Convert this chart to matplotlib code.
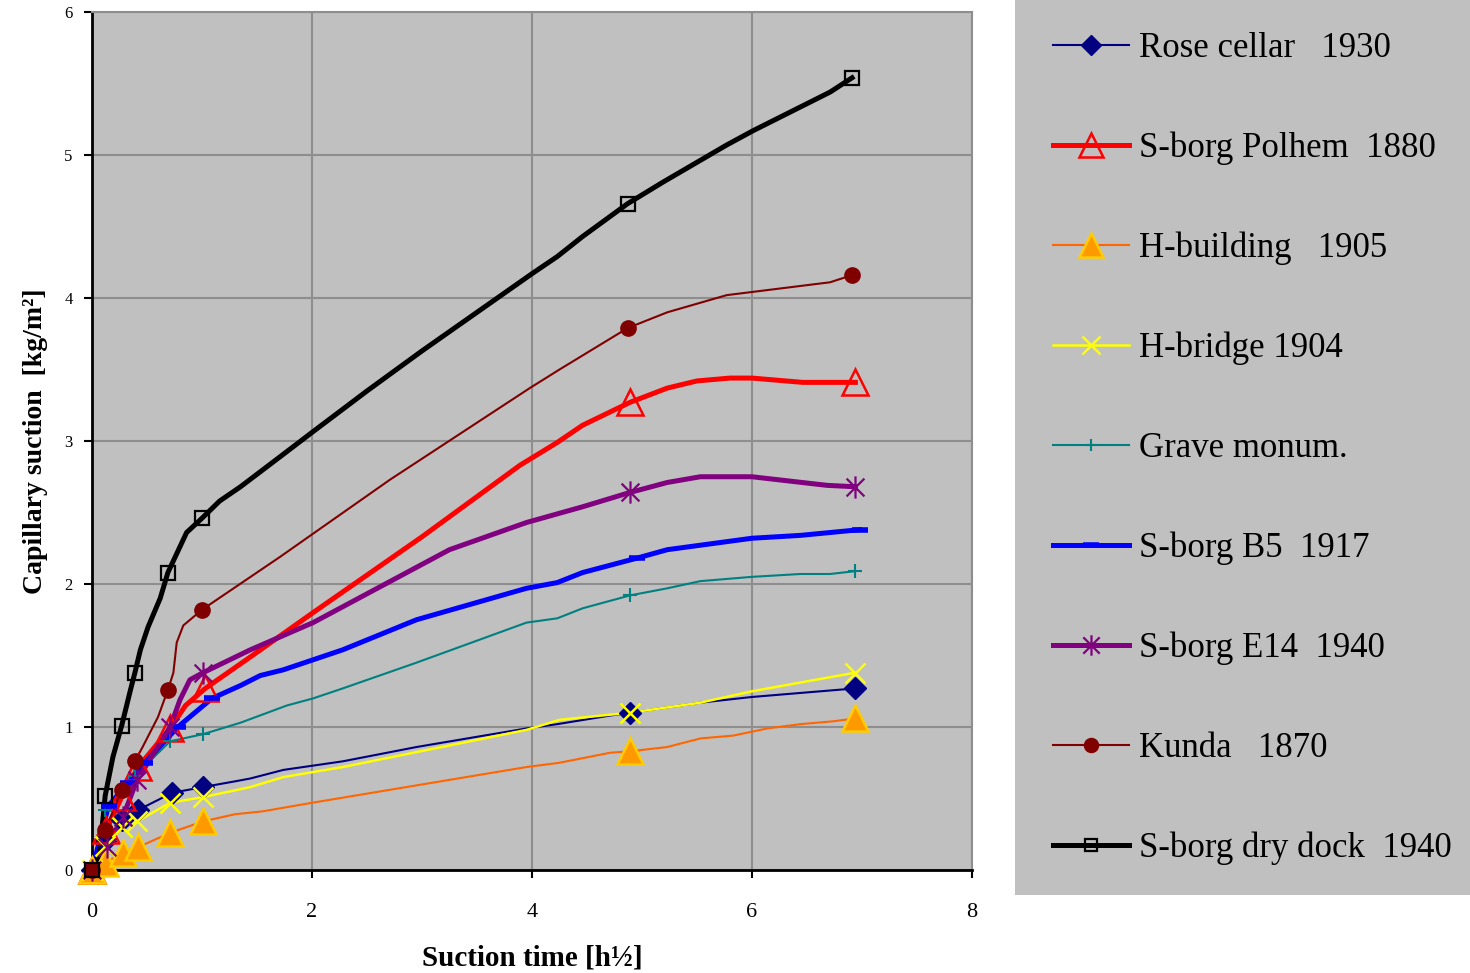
import matplotlib
matplotlib.use("Agg")
import matplotlib.pyplot as plt
from matplotlib.lines import Line2D
from matplotlib.path import Path

# ---- data (suction time in h^0.5, capillary suction in kg/m2) ----
rose_x = [0, 0.12, 0.27, 0.42, 0.73, 1.01, 1.3, 1.44, 1.74, 2.28, 2.95, 3.95, 4.23, 4.71, 4.89, 5.53, 6.0, 6.94]
rose_y = [0, 0.20, 0.35, 0.42, 0.54, 0.58, 0.62, 0.64, 0.70, 0.76, 0.86, 0.99, 1.02, 1.08, 1.10, 1.17, 1.21, 1.27]
rose_marks = [0, 1, 2, 3, 4, 5, 14, 17]

polhem_x = [0, 0.13, 0.27, 0.42, 0.71, 0.85, 1.03, 1.44, 2.01, 3.0, 3.89, 4.23, 4.46, 4.89, 5.23, 5.5, 5.8, 6.0, 6.46, 6.94]
polhem_y = [0, 0.28, 0.51, 0.72, 0.99, 1.15, 1.27, 1.49, 1.80, 2.33, 2.83, 2.99, 3.11, 3.27, 3.37, 3.42, 3.44, 3.44, 3.41, 3.41]
polhem_marks = [0, 1, 2, 3, 4, 6, 13, 19]

hbuild_x = [0, 0.12, 0.28, 0.42, 0.71, 1.01, 1.3, 1.55, 2.0, 3.95, 4.25, 4.71, 4.89, 5.23, 5.53, 5.83, 6.14, 6.44, 6.74, 6.94]
hbuild_y = [0, 0.05, 0.12, 0.16, 0.26, 0.34, 0.39, 0.41, 0.47, 0.72, 0.75, 0.82, 0.83, 0.86, 0.92, 0.94, 0.99, 1.02, 1.04, 1.06]
hbuild_marks = [0, 1, 2, 3, 4, 5, 12, 19]

hbridge_x = [0, 0.12, 0.27, 0.41, 0.71, 1.01, 1.44, 1.74, 2.28, 3.95, 4.25, 4.89, 5.53, 6.0, 6.94]
hbridge_y = [0, 0.17, 0.30, 0.34, 0.47, 0.51, 0.58, 0.65, 0.72, 0.98, 1.05, 1.10, 1.17, 1.25, 1.38]
hbridge_marks = [0, 1, 2, 3, 4, 5, 11, 14]

grave_x = [0, 0.12, 0.27, 0.39, 0.71, 1.01, 1.35, 1.77, 2.01, 2.28, 2.95, 3.95, 4.23, 4.46, 4.89, 5.23, 5.53, 6.0, 6.44, 6.71, 6.94]
grave_y = [0, 0.42, 0.55, 0.66, 0.90, 0.95, 1.03, 1.15, 1.20, 1.27, 1.45, 1.73, 1.76, 1.83, 1.92, 1.97, 2.02, 2.05, 2.07, 2.07, 2.09]
grave_marks = [0, 1, 2, 3, 4, 5, 14, 20]

b5_x = [0, 0.15, 0.33, 0.48, 0.78, 1.09, 1.35, 1.53, 1.74, 2.28, 2.95, 3.95, 4.23, 4.46, 4.95, 5.23, 6.0, 6.44, 6.98]
b5_y = [0, 0.45, 0.61, 0.75, 1.0, 1.2, 1.29, 1.36, 1.40, 1.54, 1.75, 1.97, 2.01, 2.08, 2.18, 2.24, 2.32, 2.34, 2.38]
b5_marks = [0, 1, 2, 3, 4, 5, 14, 18]

e14_x = [0, 0.14, 0.28, 0.41, 0.71, 0.80, 0.89, 1.01, 1.44, 2.01, 3.25, 3.95, 4.46, 4.89, 5.23, 5.53, 6.0, 6.68, 6.94]
e14_y = [0, 0.16, 0.37, 0.63, 1.0, 1.19, 1.33, 1.38, 1.54, 1.73, 2.24, 2.43, 2.54, 2.64, 2.71, 2.75, 2.75, 2.69, 2.68]
e14_marks = [0, 1, 2, 3, 4, 7, 13, 18]

kunda_x = [0, 0.12, 0.27, 0.39, 0.46, 0.60, 0.69, 0.74, 0.77, 0.83, 1.0, 1.71, 2.71, 3.98, 4.25, 4.87, 5.23, 5.77, 6.71, 6.91]
kunda_y = [0, 0.28, 0.56, 0.76, 0.86, 1.07, 1.26, 1.38, 1.59, 1.71, 1.82, 2.19, 2.73, 3.37, 3.50, 3.79, 3.90, 4.02, 4.11, 4.16]
kunda_marks = [0, 1, 2, 3, 6, 10, 15, 19]

dock_x = [0, 0.07, 0.12, 0.19, 0.27, 0.35, 0.39, 0.44, 0.51, 0.62, 0.69, 0.86, 1.0, 1.16, 1.35, 1.71, 2.0, 2.5, 3.0, 3.5, 4.0, 4.23, 4.46, 4.87, 5.19, 5.77, 6.01, 6.71, 6.91]
dock_y = [0, 0.12, 0.52, 0.79, 1.01, 1.26, 1.38, 1.54, 1.70, 1.90, 2.08, 2.36, 2.46, 2.58, 2.68, 2.89, 3.06, 3.35, 3.63, 3.90, 4.17, 4.29, 4.43, 4.66, 4.81, 5.07, 5.17, 5.44, 5.54]
dock_marks = [0, 2, 4, 6, 10, 12, 23, 28]

labels = ["Rose cellar   1930", "S-borg Polhem  1880", "H-building   1905",
          "H-bridge 1904", "Grave monum.", "S-borg B5  1917",
          "S-borg E14  1940", "Kunda   1870", "S-borg dry dock  1940"]

# asterisk marker like the spreadsheet one: vertical bar plus an x
asterisk = Path([(0, -1), (0, 1), (-0.8, -0.8), (0.8, 0.8), (-0.8, 0.8), (0.8, -0.8)],
                [Path.MOVETO, Path.LINETO, Path.MOVETO, Path.LINETO, Path.MOVETO, Path.LINETO])

series = [
    (rose_x, rose_y, rose_marks, dict(color="#000080", lw=1.5, marker="D", ms=11, mfc="#000080", mec="#000080", mew=1)),
    (polhem_x, polhem_y, polhem_marks, dict(color="#FF0000", lw=3.6, marker="^", ms=19, mfc="none", mec="#FF0000", mew=1.8)),
    (hbuild_x, hbuild_y, hbuild_marks, dict(color="#FF6600", lw=1.5, marker="^", ms=19, mfc="#FF9900", mec="#FFCC00", mew=1.8)),
    (hbridge_x, hbridge_y, hbridge_marks, dict(color="#FFFF00", lw=1.8, marker="x", ms=14, mfc="none", mec="#FFFF00", mew=1.8)),
    (grave_x, grave_y, grave_marks, dict(color="#008080", lw=1.5, marker="+", ms=10, mfc="none", mec="#008080", mew=1.5)),
    (b5_x, b5_y, b5_marks, dict(color="#0000FF", lw=3.6, marker="_", ms=12, mfc="#0000FF", mec="#0000FF", mew=4)),
    (e14_x, e14_y, e14_marks, dict(color="#800080", lw=3.6, marker=asterisk, ms=16, mfc="none", mec="#800080", mew=1.6)),
    (kunda_x, kunda_y, kunda_marks, dict(color="#800000", lw=1.5, marker="o", ms=11, mfc="#800000", mec="#800000", mew=1)),
    (dock_x, dock_y, dock_marks, dict(color="#000000", lw=3.6, marker="s", ms=10, mfc="none", mec="#000000", mew=1.6)),
]

plt.rcParams['font.family'] = ['Liberation Serif', 'DejaVu Serif']

fig = plt.figure(figsize=(14.7, 9.73), dpi=100)
ax = fig.add_axes([92 / 1470, 1 - 870 / 973, 880 / 1470, 858 / 973])
ax.set_facecolor("#C0C0C0")

handles = []
for xs, ys, marks, st in series:
    ax.plot(xs, ys, color=st["color"], lw=st["lw"], solid_joinstyle="round", zorder=3)
    mx = [xs[i] for i in marks]
    my = [ys[i] for i in marks]
    ax.plot(mx, my, ls="none", marker=st["marker"], ms=st["ms"], mfc=st["mfc"],
            mec=st["mec"], mew=st["mew"], zorder=4, clip_on=False)
    handles.append(Line2D([], [], color=st["color"], lw=st["lw"], marker=st["marker"],
                          ms=st["ms"] * 0.92, mfc=st["mfc"], mec=st["mec"], mew=st["mew"]))

ax.set_xlim(0, 8)
ax.set_ylim(0, 6)
ax.set_xticks([0, 2, 4, 6, 8])
ax.set_yticks([0, 1, 2, 3, 4, 5, 6])
ax.grid(True, color="#8E8E8E", lw=1.5, zorder=1)
ax.set_axisbelow(True)
for s in ["top", "right"]:
    ax.spines[s].set_color("#8E8E8E")
    ax.spines[s].set_linewidth(1.5)
for s in ["left", "bottom"]:
    ax.spines[s].set_color("black")
    ax.spines[s].set_linewidth(2)
ax.tick_params(axis="y", direction="out", length=6, width=1.5, labelsize=12, pad=8)
ax.tick_params(axis="x", direction="out", length=6, width=1.5, labelsize=16, pad=18)

ax.set_xlabel("Suction time [h½]", fontsize=21, fontweight="bold", labelpad=16)
ax.set_ylabel("Capillary suction  [kg/m²]", fontsize=20, fontweight="bold", labelpad=12)

# legend panel on the right
lax = fig.add_axes([1015 / 1470, 1 - 895 / 973, 455 / 1470, 895 / 973])
lax.set_facecolor("#C0C0C0")
lax.set_xticks([])
lax.set_yticks([])
for s in lax.spines.values():
    s.set_visible(False)
lax.legend(handles, labels, loc="upper left", bbox_to_anchor=(0.053, 0.98), frameon=False,
           fontsize=25, handlelength=2.2, handletextpad=0.29, labelspacing=1.92, borderaxespad=0)

fig.savefig("out.png", dpi=100)
